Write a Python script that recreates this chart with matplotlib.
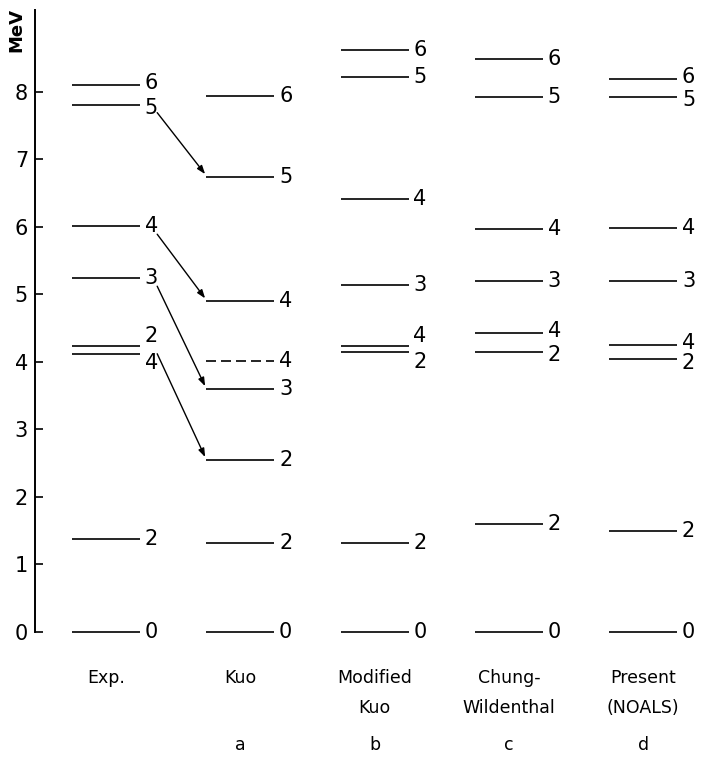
import matplotlib
matplotlib.use("Agg")
import matplotlib.pyplot as plt

plt.rcParams['font.family'] = ['DejaVu Sans']

# ---- data ----
columns_line1 = ["Exp.", "Kuo", "Modified", "Chung-", "Present"]
columns_line2 = ["", "", "Kuo", "Wildenthal", "(NOALS)"]
panel_letters = ["", "a", "b", "c", "d"]

exp_E = [0.0, 1.37, 4.12, 4.24, 5.24, 6.01, 7.81, 8.10]
exp_J = ["0", "2", "4", "2", "3", "4", "5", "6"]

kuo_E = [0.0, 1.32, 2.55, 3.60, 4.01, 4.90, 6.74, 7.94]
kuo_J = ["0", "2", "2", "3", "4", "4", "5", "6"]
kuo_dashed = [False, False, False, False, True, False, False, False]

modkuo_E = [0.0, 1.32, 4.14, 4.24, 5.14, 6.41, 8.22, 8.62]
modkuo_J = ["0", "2", "2", "4", "3", "4", "5", "6"]

cw_E = [0.0, 1.60, 4.15, 4.43, 5.19, 5.97, 7.92, 8.48]
cw_J = ["0", "2", "2", "4", "3", "4", "5", "6"]

pres_E = [0.0, 1.50, 4.04, 4.25, 5.19, 5.98, 7.92, 8.19]
pres_J = ["0", "2", "2", "4", "3", "4", "5", "6"]

# arrows: (index in exp levels) -> (index in kuo levels)
arrow_from = [6, 5, 4, 3]
arrow_to = [6, 5, 3, 2]

yticks = [0, 1, 2, 3, 4, 5, 6, 7, 8]

all_E = [exp_E, kuo_E, modkuo_E, cw_E, pres_E]
all_J = [exp_J, kuo_J, modkuo_J, cw_J, pres_J]
all_dash = [None, kuo_dashed, None, None, None]

# ---- figure ----
W, H = 701, 762
fig = plt.figure(figsize=(W / 100, H / 100), dpi=100)
ax = fig.add_axes([35 / W, (H - 632) / H, 666 / W, 622 / H])
ax.set_xlim(-0.53, 4.43)
ax.set_ylim(0, 9.21)

for s in ["top", "right", "bottom"]:
    ax.spines[s].set_visible(False)
ax.spines["left"].set_linewidth(1.4)
ax.set_xticks([])
ax.set_yticks(yticks)
ax.set_yticklabels([str(t) for t in yticks], fontsize=15)
ax.tick_params(axis="y", direction="in", length=6, width=1.2, pad=5)

hw = 0.253
for ci, (E, J) in enumerate(zip(all_E, all_J)):
    dash = all_dash[ci]
    # label offsets for close levels
    order = sorted(range(len(E)), key=lambda k: E[k])
    off = [0.0] * len(E)
    for a, b in zip(order[:-1], order[1:]):
        if E[b] - E[a] < 0.2:
            off[a] -= 0.14
            off[b] += 0.14
        elif E[b] - E[a] < 0.32:
            off[a] -= 0.05
            off[b] += 0.03
    for k, (e, j) in enumerate(zip(E, J)):
        ls = (0, (6, 3)) if (dash is not None and dash[k]) else "-"
        ax.plot([ci - hw, ci + hw], [e, e], color="black", lw=1.2, ls=ls,
                solid_capstyle="butt", clip_on=False)
        ax.text(ci + hw + 0.035, e + off[k], j, fontsize=15, ha="left",
                va="center", clip_on=False)
    ax.text(ci, -0.68, columns_line1[ci], fontsize=12.5, ha="center",
            va="center", clip_on=False)
    if columns_line2[ci]:
        ax.text(ci, -1.13, columns_line2[ci], fontsize=12.5, ha="center",
                va="center", clip_on=False)
    if panel_letters[ci]:
        ax.text(ci, -1.68, panel_letters[ci], fontsize=12.5, ha="center",
                va="center", clip_on=False)

for fi, ti in zip(arrow_from, arrow_to):
    ax.annotate("", xy=(1 - hw - 0.01, kuo_E[ti] + 0.04),
                xytext=(0.38, exp_E[fi] - 0.12),
                arrowprops=dict(arrowstyle="-|>,head_length=0.5,head_width=0.18",
                                color="black", lw=1.0, shrinkA=0, shrinkB=0))

fig.text(16 / W, 1 - 30 / H, "MeV", rotation=90, ha="center", va="center",
         fontsize=13, fontweight="bold")

fig.savefig("out.png", dpi=100, facecolor="white")
